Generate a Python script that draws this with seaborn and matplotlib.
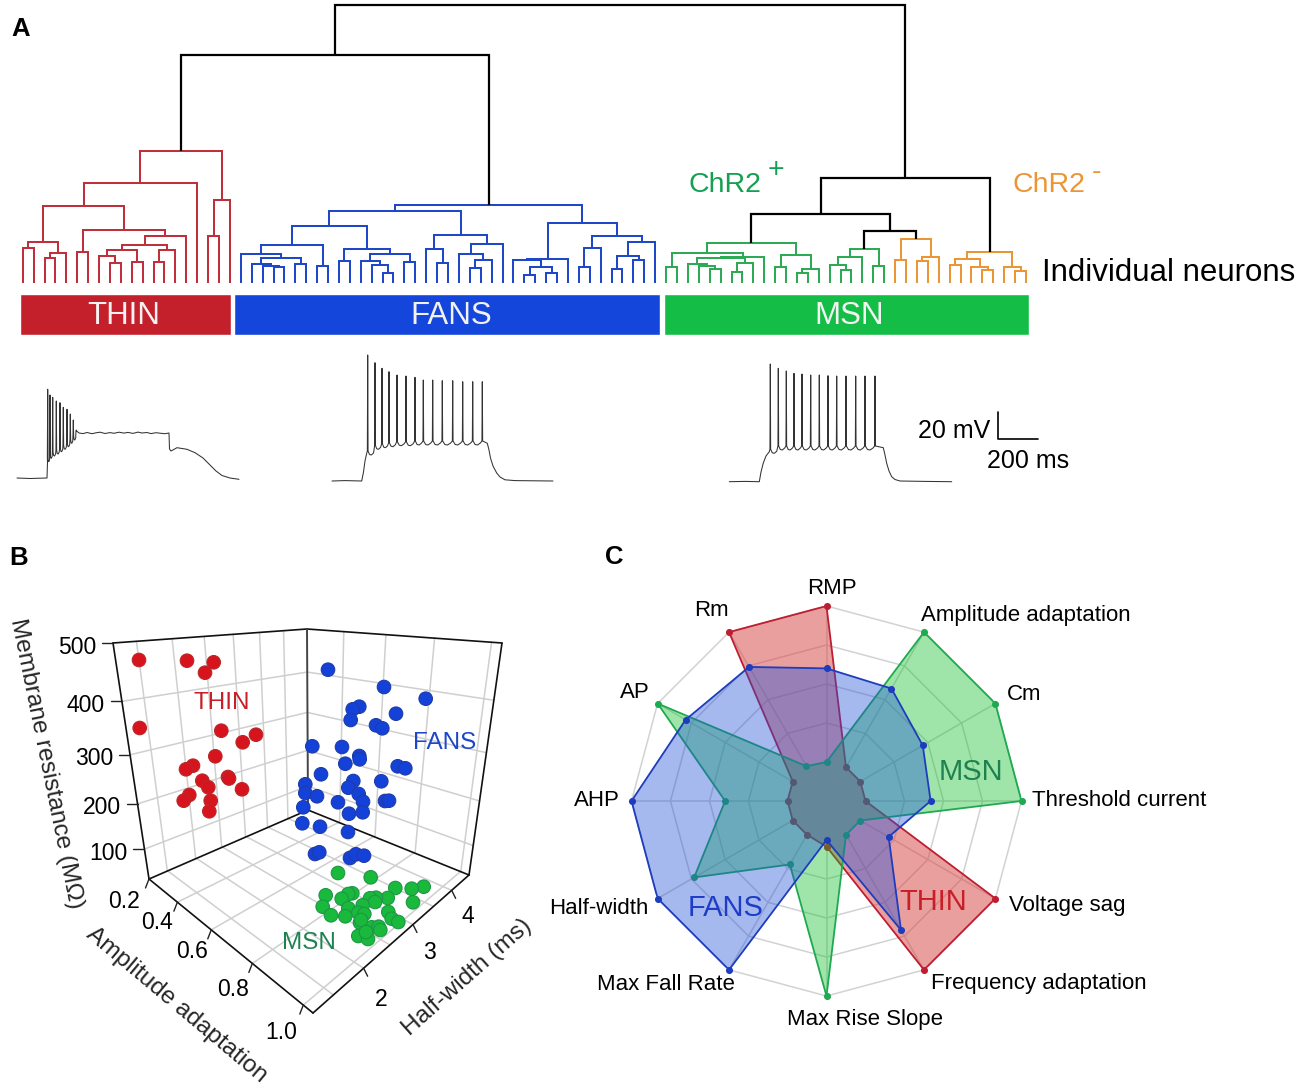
import numpy as np
import pandas as pd
import matplotlib
matplotlib.use("Agg")
import matplotlib.pyplot as plt
import seaborn as sns

# dendrogram, nodes are (height above the leaves, left, right), a leaf is 0
red_tree = (132, (100, (77, (41, (35, 0, 0), (30, (25, 0, 0), 0)),
                        (53, (31, 0, 0), (47, (38, (33, (27, 0, (20, 0, 0)), (21, 0, 0)),
                                               (33, (21, 0, 0), 0)), 0))), 0),
            (83, (47, 0, 0), 0))
blue_tree = (78, (72, (57, (38, (29, 0, (25, (19, 0, (17, 0, (16, 0, 0))), (19, 0, 0))), (17, 0, 0)),
                       (34, (22, 0, 0), (29, (22, 0, (18, 0, (10, 0, 0))), (21, 0, 0)))),
                  (48, (34, 0, (20, 0, 0)),
                   (39, (29, 0, (23, (15, 0, 0), 0)), 0))),
             (60, (24, (23, 0, (16, (8, 0, 0), (10, 0, 0))), 0),
              (47, (35, (16, 0, 0), 0), (41, (27, (14, 0, 0), (23, 0, 0)), 0))))
green_tree_a = (40, (30, (16, 0, 0), (26, (25, (19, 0, (17, 0, (14, 0, 0))),
                                           (20, (11, 0, 0), 0)), 0)),
                (28, (16, 0, 0), (14, (10, 0, 0), 0)))
green_tree_b = (34, (26, (18, 0, (13, 0, 0)), 0), (17, 0, 0))
orange_tree_a = (44, (23, 0, 0), (26, (22, 0, 0), 0))
orange_tree_b = (31, (24, (18, 0, 0), (16, 0, (13, 0, 0))), (16, 0, (12, 0, 0)))
# black links joining the coloured subtrees
join_thin_fans = 228
join_msn_inner = 52
join_msn_mid = 68.7
join_msn_outer = 104.7
join_root = 278

cluster_names = ["THIN", "FANS", "MSN"]
cluster_bar_left = [20, 234, 664]
cluster_bar_width = [211, 426, 365]
cluster_label_x = [124, 451, 849]

thin_head_x = [17, 30, 47, 47.5]
thin_head_y = [478, 478.5, 478, 462]
thin_spike_x = [47.7, 50, 52.7, 56.3, 60, 63.3, 67, 70.3, 73.3, 76.3]
thin_spike_peak = [389.3, 395, 397.3, 401, 402.7, 407.3, 409.3, 414, 420, 430]
thin_spike_trough = [461.7, 458.3, 456, 454, 451.7, 449.3, 446.7, 443.3, 440, 435]
thin_tail_x = [79, 83, 87, 92, 96, 100, 105, 110, 114, 119, 124, 128, 133, 138, 142, 147, 151, 156,
               160, 165, 169, 169.5, 171, 177, 187, 195, 203, 210, 216, 222, 230, 239]
thin_tail_y = [433, 433.6, 432.5, 433.7, 432.8, 432.2, 433.5, 432.6, 433.3, 432.2, 433.1, 432.4,
               433.4, 432.1, 433, 432.5, 433.6, 432.7, 433.2, 433.7, 433, 449, 451, 447.7, 449.3,
               452.7, 458, 465, 471, 475.5, 478, 479.3]
fans_head_x = [332, 345, 361.7, 363.5, 365, 366.7]
fans_head_y = [481, 480.6, 481, 472, 461, 453.3]
fans_spike_x = [367.7, 375, 382, 389, 397, 406, 415, 423.3, 432.7, 442.3, 452.7, 462.7, 472.7, 482.3]
fans_spike_peak = [355, 362.7, 368.3, 371.7, 375, 376, 377.3, 380, 380, 380.7, 380.7, 381.7, 381.7, 381.7]
fans_spike_trough = [455, 449.3, 447.7, 446.7, 445.7, 445.7, 445, 445, 445, 445, 445, 445, 445, 445]
fans_tail_x = [487.3, 489, 490.5, 493, 496.7, 500, 505, 515, 553]
fans_tail_y = [443.3, 450, 458, 466, 473, 477, 479.8, 480.6, 481]
msn_head_x = [729.3, 745, 759.3, 761, 763.3, 766, 769.3]
msn_head_y = [481.7, 481.4, 481.7, 472, 463, 456, 451.7]
msn_spike_x = [770.3, 778.3, 786.3, 794, 802, 810.7, 819.3, 828, 836.7, 846, 855.7, 865, 875]
msn_spike_peak = [364, 368.3, 371, 373.3, 374, 375, 375, 375.7, 376, 376, 376, 376, 376]
msn_spike_trough = [453.3, 450, 450, 450, 450, 450, 450, 450, 450, 450, 450, 450, 450]
msn_tail_x = [883.3, 885, 886.7, 889, 891.7, 895, 900, 925, 951.7]
msn_tail_y = [447.7, 455, 463.3, 471, 476.7, 479.5, 481, 481.4, 481.7]

# panel B, the 3D cloud as it lands on the page
thin_cloud_x = [139, 187, 213.7, 205, 139.7, 221.3, 256, 242.7, 215.3, 193, 186, 228, 229, 202.3, 208.3,
                242, 189.3, 183.7, 210.7, 209.3]
thin_cloud_y = [660, 660.7, 662.3, 672.7, 728, 730.7, 734.7, 742.3, 756.3, 765.7, 769.3, 777, 778.5, 780.7,
                787.3, 789.3, 795, 800.7, 800.7, 811.3]
fans_cloud_x = [328, 384, 425.7, 359.3, 352.7, 350.7, 396, 376, 382.3, 312.3, 342, 359.3, 359.7, 345.3,
                397.7, 405.3, 321, 381.3, 353.3, 348.3, 305.3, 305.3, 317, 358.7, 363, 385, 389, 338,
                303.3, 349, 362.7, 302.3, 320, 348, 315, 319.3, 350, 356, 364]
fans_cloud_y = [669.7, 687, 698.7, 706.7, 709.3, 720, 713.7, 725.3, 728.3, 746.3, 747, 756, 759.3, 763.7,
                766.3, 768.3, 774.3, 781.3, 781, 787.7, 784.3, 793, 796.3, 794, 801.7, 801, 800.7, 802.3,
                807.3, 813.7, 812.3, 823.3, 826.7, 832, 854, 852.3, 858, 854.3, 855.7]
msn_cloud_x = [338, 370.7, 423.7, 411.7, 395.3, 325.7, 352.3, 348.3, 341.7, 387.7, 376, 370, 375, 413,
               322.7, 348.3, 362.7, 388.3, 358.3, 364.3, 331, 345.3, 391.7, 398.3, 360, 371.7, 378.7,
               380.3, 358.3, 368, 361, 366]
msn_cloud_y = [873, 877.3, 886.7, 888.7, 888, 895.3, 893.3, 894, 898.7, 898, 897.7, 898.3, 902, 902.3,
               906.7, 908.3, 905.3, 912, 912.7, 914, 915.3, 916.3, 918.7, 922, 922.7, 927.3, 926.7,
               930, 936, 939, 920, 932]
rm_ticks = [100, 200, 300, 400, 500]
amp_ticks = [0.2, 0.4, 0.6, 0.8, 1.0]
hw_ticks = [2, 3, 4]
hw_grid = [1.5, 2, 2.5, 3, 3.5, 4]
amp_grid = [0.4, 0.6, 0.8, 1.0]

# panel C
features = ["RMP", "Amplitude adaptation", "Cm", "Threshold current", "Voltage sag",
            "Frequency adaptation", "Max Rise Slope", "Max Fall Rate", "Half-width", "AHP", "AP", "Rm"]
thin_scores = [5, 1, 1, 1, 5, 5, 1.17, 1, 1, 1, 1, 5]
fans_scores = [3.4, 3.33, 2.85, 2.67, 1.84, 3.82, 1, 5, 5, 5, 4.17, 3.97]
msn_scores = [1, 5, 5, 5, 1, 1, 5, 1.88, 3.92, 2.6, 5, 1.03]

sns.set_style("white")
plt.rcParams["font.family"] = ["Liberation Sans", "DejaVu Sans"]

RED, BLUE, GREEN, ORANGE = "#c0303c", "#1f48c8", "#2eaa55", "#eb9636"
fig = plt.figure(figsize=(13, 10.9), dpi=100)

# page axes in picture pixels
ax = fig.add_axes([0, 0, 1, 1])
ax.set_xlim(0, 1300)
ax.set_ylim(1090, 0)
ax.axis("off")


def label(x, y, s, size=16, color="black", ha="left", **kw):
    ax.text(x, y + 2, s, fontsize=size, color=color, ha=ha, va="center", **kw)


# ---- A: dendrogram, x is the leaf number, y the height
ax_tree = fig.add_axes([0, 0, 1, 1])
ax_tree.set_xlim(-22.7 / 10.905, (1300 - 22.7) / 10.905)
ax_tree.set_ylim(283 - 1090, 283)
ax_tree.axis("off")
ax_tree.patch.set_alpha(0)
next_leaf = 0


def link(left, right, height, color, lw=1.45):
    ax_tree.plot([left[0], left[0], right[0], right[0]], [left[1], height, height, right[1]],
                 color=color, lw=lw, solid_joinstyle="miter", solid_capstyle="butt")
    return (left[0] + right[0]) / 2, height


def draw_tree(node, color):
    global next_leaf
    if node == 0:
        next_leaf += 1
        return next_leaf - 1, 0
    left = draw_tree(node[1], color)
    right = draw_tree(node[2], color)
    return link(left, right, node[0], color)


thin_top = draw_tree(red_tree, RED)
fans_top = draw_tree(blue_tree, BLUE)
msn_a = draw_tree(green_tree_a, GREEN)
msn_b = draw_tree(green_tree_b, GREEN)
chr_a = draw_tree(orange_tree_a, ORANGE)
chr_b = draw_tree(orange_tree_b, ORANGE)
left_top = link(thin_top, fans_top, join_thin_fans, "black", 1.6)
inner = link(msn_b, chr_a, join_msn_inner, "black", 1.6)
mid = link(msn_a, inner, join_msn_mid, "black", 1.6)
right_top = link(mid, chr_b, join_msn_outer, "black", 1.6)
link(left_top, right_top, join_root, "black", 1.6)

ax.barh([314.5, 314.5, 314.5], cluster_bar_width, left=cluster_bar_left, height=41.5,
        color=["#c4202c", "#1446dc", "#14be46"])
for name, x in zip(cluster_names, cluster_label_x):
    label(x, 314, name, 22.5, "#f2f2f2", "center")

label(11, 27.5, "A", 18.5, fontweight="bold")
label(688, 183, "ChR2", 20.5, "#14a050")
label(768, 168, "+", 20.5, "#14a050")
label(1012, 183, "ChR2", 20.5, ORANGE)
label(1092, 170, "-", 20.5, ORANGE)
label(1042, 271, "Individual neurons", 22.5)


def trace(head_x, head_y, spike_x, peak, trough, tail_x, tail_y):
    xs, ys = list(head_x), list(head_y)
    for i, sx in enumerate(spike_x):
        xs += [sx - 0.35, sx, sx + 0.35]
        ys += [trough[i] - 4, peak[i], trough[i] - 4]
        if i + 1 < len(spike_x):
            gap = spike_x[i + 1] - sx
            xs += [sx + 0.25 * gap, sx + 0.5 * gap, sx + 0.8 * gap]
            ys += [trough[i] - 0.5, trough[i], trough[i] - 2]
    xs += list(tail_x)
    ys += list(tail_y)
    sns.lineplot(x=xs, y=ys, sort=False, estimator=None, color="#333333", lw=0.75, ax=ax)


trace(thin_head_x, thin_head_y, thin_spike_x, thin_spike_peak, thin_spike_trough, thin_tail_x, thin_tail_y)
trace(fans_head_x, fans_head_y, fans_spike_x, fans_spike_peak, fans_spike_trough, fans_tail_x, fans_tail_y)
trace(msn_head_x, msn_head_y, msn_spike_x, msn_spike_peak, msn_spike_trough, msn_tail_x, msn_tail_y)
ax.plot([997.7, 997.7, 1037.7], [411.7, 439, 439], color="black", lw=1.2)
label(918, 429, "20 mV", 18)
label(987, 459, "200 ms", 18)

# ---- B: box drawn with a homography per wall
label(9, 556, "B", 18.5, fontweight="bold")
L0, B0, F0, R0 = (149, 879), (308, 810), (313, 1013), (469, 875)
L1, B1, R1 = (113, 643), (307, 629), (502, 643)


def wall_map(p0, p1, p2, p3):
    # unit square -> quadrilateral
    (x0, y0), (x1, y1), (x2, y2), (x3, y3) = p0, p1, p2, p3
    m = np.array([[x1 - x2, x3 - x2], [y1 - y2, y3 - y2]], float)
    g, h = np.linalg.solve(m, [x0 - x1 + x2 - x3, y0 - y1 + y2 - y3])

    def project(u, v):
        w = g * u + h * v + 1
        return ((x1 - x0 + g * x1) * u + (x3 - x0 + h * x3) * v + x0) / w, \
               ((y1 - y0 + g * y1) * u + (y3 - y0 + h * y3) * v + y0) / w
    return project


floor = wall_map(L0, F0, R0, B0)
left_wall = wall_map(L0, B0, B1, L1)
right_wall = wall_map(B0, R0, R1, B1)


def amp_pos(a):
    return (a - 0.2) * 1.2


def hw_pos(h):
    return 0.24 + 0.3 * (h - 2)


def rm_pos(r):
    return 0.15 + (r - 100) * 0.85 / 400


def wall_line(wall, a, b):
    xa, ya = wall(*a)
    xb, yb = wall(*b)
    ax.plot([xa, xb], [ya, yb], color="#cfcfcf", lw=1.1, zorder=1)


for h in hw_grid:
    wall_line(left_wall, (hw_pos(h), 0), (hw_pos(h), 1))
    wall_line(floor, (0, hw_pos(h)), (1, hw_pos(h)))
for a in amp_grid:
    wall_line(right_wall, (amp_pos(a), 0), (amp_pos(a), 1))
    wall_line(floor, (amp_pos(a), 0), (amp_pos(a), 1))
for r in rm_ticks[:-1]:
    wall_line(left_wall, (0, rm_pos(r)), (1, rm_pos(r)))
    wall_line(right_wall, (0, rm_pos(r)), (1, rm_pos(r)))

for p, q in [(L1, B1), (B1, R1), (L1, L0), (R1, R0), (L0, F0), (F0, R0), (L0, B0), (B0, R0)]:
    ax.plot([p[0], q[0]], [p[1], q[1]], color="#111111", lw=1.2, zorder=2)
ax.plot([B0[0], B1[0]], [B0[1], B1[1]], color="#444444", lw=1.4, zorder=2)

for r in rm_ticks:
    x, y = left_wall(0, rm_pos(r))
    ax.plot([x - 11, x], [y, y], color="#222222", lw=1)
    label(x - 17, y + 2, str(r), 16.5, ha="right")
for a, dx, dy in zip(amp_ticks, [-25, -20, -19, -19, -22], [21, 18, 20, 24, 25]):
    x, y = floor(amp_pos(a), 0)
    ax.plot([x - 3.5, x], [y + 9, y], color="#222222", lw=1)
    label(x + dx, y + dy, f"{a:.1f}", 16.5, ha="center")
for h, dx, dy in zip(hw_ticks, [18, 16, 16], [29, 26, 24]):
    x, y = floor(1, hw_pos(h))
    ax.plot([x + 4, x], [y + 8, y], color="#222222", lw=1)
    label(x + dx, y + dy, str(h), 16.5, ha="center")

cloud = pd.DataFrame({
    "x": thin_cloud_x + fans_cloud_x + msn_cloud_x,
    "y": thin_cloud_y + fans_cloud_y + msn_cloud_y,
    "group": ["THIN"] * len(thin_cloud_x) + ["FANS"] * len(fans_cloud_x) + ["MSN"] * len(msn_cloud_x),
})
sns.scatterplot(data=cloud, x="x", y="y", hue="group", s=95, ax=ax, legend=False, zorder=3,
                palette={"THIN": "#d7141e", "FANS": "#1441d7", "MSN": "#19b93c"},
                edgecolor=[{"THIN": "#b82828", "FANS": "#1e3caa", "MSN": "#1e9646"}[g] for g in cloud["group"]],
                linewidth=0.8)
ax.set_xlim(0, 1300)
ax.set_ylim(1090, 0)
ax.set_xlabel("")
ax.set_ylabel("")

label(222, 701, "THIN", 17.5, "#c81e28", "center")
label(445, 741, "FANS", 17.5, "#1e46c8", "center")
label(309, 941, "MSN", 17.5, "#1e8250", "center")
for x, y, s, rot in [(46, 764, "Membrane resistance (MΩ)", -78.5),
                     (177, 1005, "Amplitude adaptation", -40),
                     (467, 977, "Half-width (ms)", 41.5)]:
    ax.text(x, y, s, fontsize=17.6, rotation=rot, ha="center", va="center", rotation_mode="anchor")

# ---- C: radar on a polar axes
label(605, 555, "C", 18.5, fontweight="bold")
ax_c = fig.add_axes([(826.5 - 195) / 1300, (1090 - 801 - 195) / 1090, 390 / 1300, 390 / 1090],
                    projection="polar")
ax_c.set_theta_zero_location("N")
ax_c.set_theta_direction(-1)
ax_c.patch.set_alpha(0)
angles = np.deg2rad(np.arange(len(features)) * 30.0)
closed = np.append(angles, angles[0])
for ring in [2, 3, 4, 5]:
    ax_c.plot(closed, [ring] * len(closed), color="#d2d2d2", lw=1.1, zorder=1, clip_on=False)
for ang in angles:
    ax_c.plot([ang, ang], [1, 5], color="#d2d2d2", lw=1.1, zorder=1, clip_on=False)

scores = {"THIN": thin_scores, "MSN": msn_scores, "FANS": fans_scores}
fills = {"THIN": "#d74141", "MSN": "#11c02a", "FANS": "#1e50d9"}
alphas = {"THIN": 0.5, "MSN": 0.4, "FANS": 0.4}
edges = {"THIN": "#be1e32", "MSN": "#1eaa50", "FANS": "#1e3cbe"}
# each group is one layer, later fills tint the lines under them
for i, (name, vals) in enumerate(scores.items()):
    ax_c.fill(angles, vals, color=fills[name], alpha=alphas[name], lw=0, zorder=2 + i)
    sns.lineplot(x=closed, y=vals + vals[:1], sort=False, estimator=None, color=edges[name],
                 lw=1.3, zorder=2.1 + i, ax=ax_c)
    sns.scatterplot(x=angles, y=vals, color=edges[name], s=26, linewidth=0, zorder=2.2 + i,
                    clip_on=False, ax=ax_c)
ax_c.set_ylim(0, 5)
ax_c.axis("off")

for (x, y, ha), name in zip([(832, 586, "center"), (921, 613, "left"), (1007, 693, "left"),
                             (1032, 799, "left"), (1009, 903, "left"), (931, 982, "left"),
                             (865, 1018, "center"), (597, 983, "left"), (549, 906, "left"),
                             (574, 799, "left"), (620, 691, "left"), (694, 609, "left")], features):
    label(x, y, name, 16, ha=ha)
# labels go on top of the radar axes
fig.text(726 / 1300, 1 - 908 / 1090, "FANS", fontsize=21, color="#1e3cc8", ha="center", va="center")
fig.text(933 / 1300, 1 - 902 / 1090, "THIN", fontsize=21, color="#c81e28", ha="center", va="center")
fig.text(971 / 1300, 1 - 772 / 1090, "MSN", fontsize=21, color="#1e8250", ha="center", va="center")

fig.savefig("out.png", dpi=100)
